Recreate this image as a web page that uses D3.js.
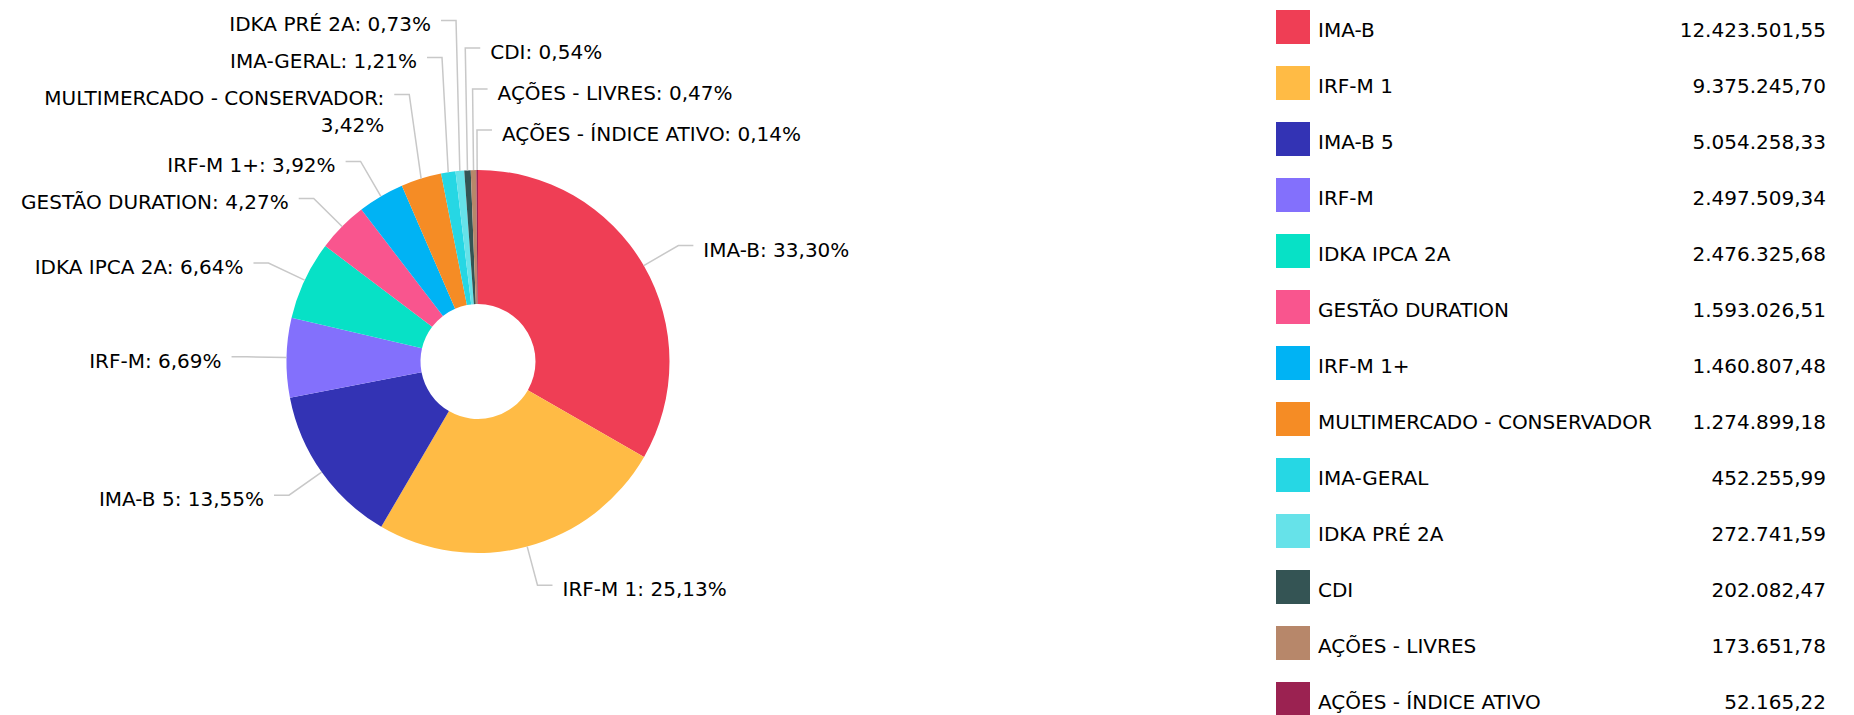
<!DOCTYPE html>
<html>
<head>
<meta charset="utf-8">
<script src="https://cdn.jsdelivr.net/npm/d3@7"></script>
<style>
  body { margin: 0; background: #fff; }
  svg text { font-family: "DejaVu Sans", Verdana, sans-serif; font-size: 20px; fill: #000; }
</style>
</head>
<body>
<svg id="chart"></svg>
<script>
// data
const categories = ["IMA-B", "IRF-M 1", "IMA-B 5", "IRF-M", "IDKA IPCA 2A", "GESTÃO DURATION", "IRF-M 1+",
  "MULTIMERCADO - CONSERVADOR", "IMA-GERAL", "IDKA PRÉ 2A", "CDI", "AÇÕES - LIVRES", "AÇÕES - ÍNDICE ATIVO"]
const values = [12423501.55, 9375245.70, 5054258.33, 2497509.34, 2476325.68, 1593026.51, 1460807.48,
  1274899.18, 452255.99, 272741.59, 202082.47, 173651.78, 52165.22]
const colors = ["#ef3e55", "#ffbb45", "#3333b4", "#8370fc", "#07e1c6", "#f9558e", "#00b3f4",
  "#f58c25", "#26d7e4", "#66e2e9", "#345454", "#b7876a", "#9b2251"]

const width = 1854, height = 715
const cx = 478, cy = 361.5
const outerR = 191.5, innerR = 57.5
const labelR = outerR + 40

const ptBR = d3.formatLocale({ decimal: ",", thousands: ".", grouping: [3], currency: ["R$ ", ""] })
const fmtNum = ptBR.format(",.2f")

const rows = categories.map((c, i) => ({ name: c, value: values[i], color: colors[i] }))
const total = d3.sum(values)

const svg = d3.select("#chart")
  .attr("width", width)
  .attr("height", height)

// pie
const pie = d3.pie().sort(null).value(d => d.value)
const arc = d3.arc().innerRadius(innerR).outerRadius(outerR)
const arcs = pie(rows)

const canvas = svg.append("g").attr("transform", "translate(" + cx + "," + cy + ")")

canvas.selectAll("path.slice")
  .data(arcs)
  .enter().append("path")
  .attr("class", "slice")
  .attr("d", arc)
  .attr("fill", d => d.data.color)

// labels: measure text first, wrap long ones
const measure = svg.append("text").attr("visibility", "hidden")
function textWidth(s) {
  measure.text(s)
  return measure.node().getComputedTextLength()
}
const maxLabelWidth = 360
const lineGap = 27

arcs.forEach(d => {
  d.mid = (d.startAngle + d.endAngle) / 2
  d.edge = [outerR * Math.sin(d.mid), -outerR * Math.cos(d.mid)]
  d.elbowX = labelR * Math.sin(d.mid)
  d.natY = -labelR * Math.cos(d.mid)
  let full = d.data.name + ": " + fmtNum(d.data.value / total * 100) + "%"
  let words = full.split(" ")
  let lines = [], cur = ""
  words.forEach(w => {
    let test = cur ? cur + " " + w : w
    if (cur && textWidth(test) > maxLabelWidth) { lines.push(cur); cur = w } else cur = test
  })
  lines.push(cur)
  d.lines = lines
})
measure.remove()

// left side, from bottom to top; anything pushed past the top goes right
const minY = 10 - cy
let left = arcs.filter(d => d.mid > Math.PI).sort((a, b) => a.mid - b.mid)
let right = arcs.filter(d => d.mid <= Math.PI)
let placedLeft = []
let below = null
left.forEach(d => {
  let h = 37 + 30 * (d.lines.length - 1)
  let y = d.natY
  if (below != null) y = Math.min(y, below - h)
  if (y < minY) {
    d.moved = true
    right.push(d)
  } else {
    d.y = y
    d.side = -1
    below = y
    placedLeft.push(d)
  }
})

// right side, order clockwise from top, push up from the bottom
right.forEach(d => { d.key = d.moved ? d.mid - 2 * Math.PI : d.mid; d.side = 1 })
right.sort((a, b) => a.key - b.key)
below = null
for (let i = right.length - 1; i >= 0; i--) {
  let d = right[i]
  let h = 41 + 30 * (d.lines.length - 1)
  let y = d.natY
  if (below != null) y = Math.min(y, below - h)
  d.y = y
  below = y
}

const labelled = placedLeft.concat(right)

canvas.selectAll("path.tick")
  .data(labelled)
  .enter().append("path")
  .attr("class", "tick")
  .attr("fill", "none")
  .attr("stroke", "#c8c8c8")
  .attr("stroke-width", 1.5)
  .attr("d", d => "M" + d.edge[0] + "," + d.edge[1] +
    "L" + d.elbowX + "," + d.y +
    "L" + (d.elbowX + d.side * 15) + "," + d.y)

canvas.selectAll("text.label")
  .data(labelled)
  .enter().append("text")
  .attr("class", "label")
  .attr("text-anchor", d => d.side < 0 ? "end" : "start")
  .each(function (d) {
    let t = d3.select(this)
    d.lines.forEach((l, i) => {
      t.append("tspan")
        .attr("x", d.elbowX + d.side * 25)
        .attr("y", d.y + 11 + i * lineGap)
        .text(l)
    })
  })

// legend
const legend = svg.append("g").attr("class", "legend")
const rowY = d3.scalePoint()
  .domain(categories)
  .range([27, 27 + 56 * (categories.length - 1)])

const item = legend.selectAll("g.item")
  .data(rows)
  .enter().append("g")
  .attr("class", "item")
  .attr("transform", d => "translate(0," + rowY(d.name) + ")")

item.append("rect")
  .attr("x", 1276)
  .attr("y", -17)
  .attr("width", 34)
  .attr("height", 34)
  .attr("fill", d => d.color)

item.append("text")
  .attr("x", 1318)
  .attr("y", 9.5)
  .text(d => d.name)

item.append("text")
  .attr("x", 1826)
  .attr("y", 9.5)
  .attr("text-anchor", "end")
  .text(d => fmtNum(d.value))
</script>
</body>
</html>
